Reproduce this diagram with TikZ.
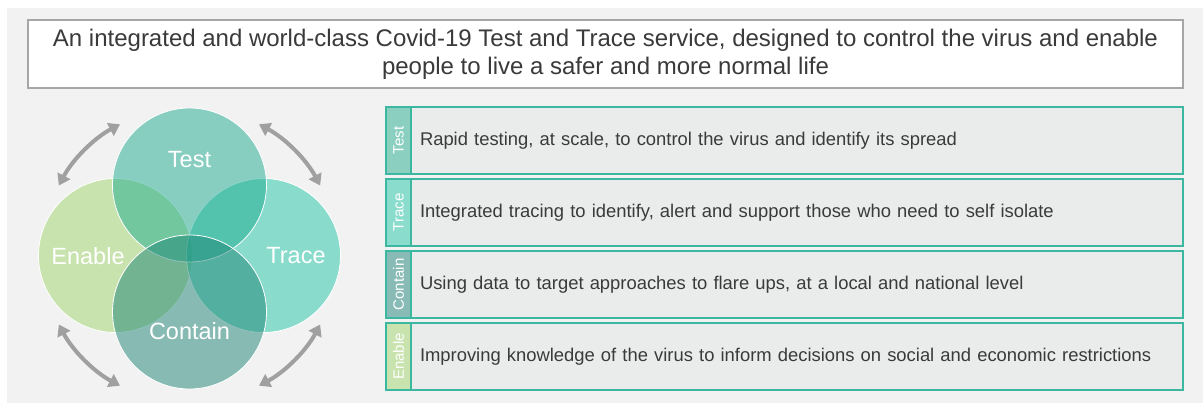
\documentclass[tikz,border=0pt]{standalone}
\usepackage{fontspec}
\setmainfont{Liberation Sans}
\usepackage{graphicx}
\usetikzlibrary{arrows.meta,positioning}
\definecolor{bggray}{RGB}{242,242,242}
\definecolor{framegray}{RGB}{166,166,166}
\definecolor{txtgray}{RGB}{58,58,58}
\definecolor{tealline}{RGB}{60,184,160}
\definecolor{rowfill}{RGB}{233,236,235}
\definecolor{testc}{RGB}{30,172,146}
\definecolor{tracec}{RGB}{34,198,168}
\definecolor{containc}{RGB}{30,132,118}
\definecolor{enablec}{RGB}{160,214,108}
\definecolor{teststrip}{RGB}{138,207,192}
\definecolor{tracestrip}{RGB}{138,220,205}
\definecolor{containstrip}{RGB}{136,187,181}
\definecolor{enablestrip}{RGB}{200,227,174}
\definecolor{arrowgray}{RGB}{160,160,160}
\tikzstyle{venn} = [circle, minimum size=154pt, inner sep=0pt, draw=white, line width=0.8pt, fill opacity=0.5]
\tikzstyle{vennlabel} = [text=white, font=\fontsize{23.5}{27}\selectfont]
\tikzstyle{cyclearrow} = [line width=4pt, color=arrowgray, {Triangle[length=11pt,width=14pt]}-{Triangle[length=11pt,width=14pt]}]
\tikzstyle{strip} = [draw=tealline, line width=1.2pt, outer sep=0pt, minimum width=25pt, minimum height=67pt, inner sep=0pt, text=white, font=\fontsize{15}{17}\selectfont]
\tikzstyle{rowbox} = [draw=tealline, fill=rowfill, line width=1.2pt, outer sep=0pt, minimum width=772pt, minimum height=67pt, inner sep=0pt, text width=754pt, align=left, text=txtgray, font=\fontsize{18.4}{21}\selectfont]

\begin{document}
\begin{tikzpicture}[x=1pt, y=-1pt]
\useasboundingbox (0,0) rectangle (1203,403);
\fill[bggray] (7,8) rectangle (1203,403);

% Heading
\node[draw=framegray, line width=1.2pt, fill=white, minimum width=1155pt, minimum height=68pt, align=center, text=txtgray, font=\fontsize{24}{28}\selectfont] (heading) at (605.5,54)
  {An integrated and world-class Covid-19 Test and Trace service, designed to control the virus and enable\\people to live a safer and more normal life};

% Venn circles
\node[venn, fill=enablec] (enable) at (115.5,255.5) {};
\node[venn, fill=tracec] (trace) at (263.5,255.5) {};
\node[venn, fill=testc] (test) at (189.5,185) {};
\node[venn, fill=containc] (contain) at (189.5,312) {};
\node[vennlabel] (testlabel) at (189.5,160) {Test};
\node[vennlabel] (enablelabel) at (88,256) {Enable};
\node[vennlabel] (tracelabel) at (296,256) {Trace};
\node[vennlabel] (containlabel) at (189.5,331) {Contain};

% Arrows round the cycle
\coordinate (hub) at (189.5,255);
\draw[cyclearrow] (hub) ++(208:148) arc[start angle=208, end angle=242, radius=148];
\draw[cyclearrow] (hub) ++(298:148) arc[start angle=298, end angle=332, radius=148];
\draw[cyclearrow] (hub) ++(118:148) arc[start angle=118, end angle=152, radius=148];
\draw[cyclearrow] (hub) ++(28:148) arc[start angle=28, end angle=62, radius=148];

% Rows
\node[strip, fill=teststrip] (teststrip) at (398.5,140.5) {\rotatebox{90}{Test}};
\node[rowbox, right=0pt of teststrip] (testrow) {Rapid testing, at scale, to control the virus and identify its spread};
\node[strip, fill=tracestrip, below=5pt of teststrip] (tracestrip) {\rotatebox{90}{Trace}};
\node[rowbox, right=0pt of tracestrip] (tracerow) {Integrated tracing to identify, alert and support those who need to self isolate};
\node[strip, fill=containstrip, below=5pt of tracestrip] (containstrip) {\rotatebox{90}{Contain}};
\node[rowbox, right=0pt of containstrip] (containrow) {Using data to target approaches to flare ups, at a local and national level};
\node[strip, fill=enablestrip, below=5pt of containstrip] (enablestrip) {\rotatebox{90}{Enable}};
\node[rowbox, right=0pt of enablestrip] (enablerow) {Improving knowledge of the virus to inform decisions on social and economic restrictions};
\end{tikzpicture}
\end{document}
